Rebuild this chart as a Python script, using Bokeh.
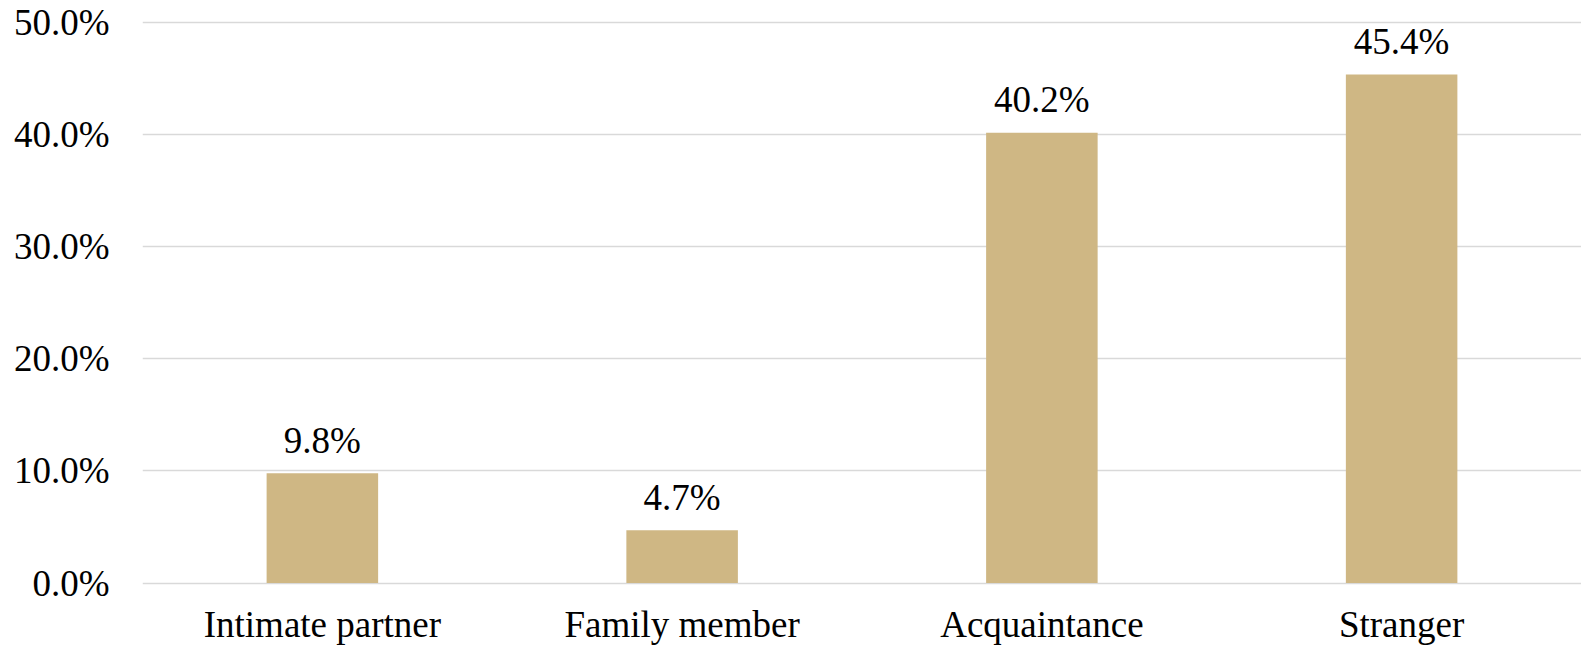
from bokeh.plotting import figure
from bokeh.models import Range1d, FactorRange, FixedTicker, PrintfTickFormatter, ColumnDataSource
from bokeh.core.properties import value
from bokeh.embed import file_html
from bokeh.resources import INLINE

categories = ["Intimate partner", "Family member", "Acquaintance", "Stranger"]
shares = [9.8, 4.7, 40.2, 45.4]
share_labels = ["9.8%", "4.7%", "40.2%", "45.4%"]
y_ticks = [0, 10, 20, 30, 40, 50]

FONT = "Liberation Serif"
FONT2 = "Times New Roman"
BAR = "#CFB784"
GRID = "#D9D9D9"

src = ColumnDataSource(dict(cat=categories, val=shares, lab=share_labels))

p = figure(width=1581, height=647, output_backend="svg", toolbar_location=None,
           x_range=FactorRange(factors=categories, range_padding=0),
           y_range=Range1d(-0.4, 50.3),
           min_border_left=142, min_border_right=0, min_border_top=19, min_border_bottom=59)
p.outline_line_color = None
p.background_fill_color = "white"
p.border_fill_color = "white"

p.vbar(x="cat", top="val", bottom=0, width=0.31, source=src, fill_color=BAR, line_color=None)
p.text(x="cat", y="val", text="lab", source=src, y_offset=-33,
       text_align="center", text_baseline="alphabetic",
       text_font=value(FONT), text_font_size="37px", text_color="black")

p.yaxis.ticker = FixedTicker(ticks=y_ticks)
p.yaxis.formatter = PrintfTickFormatter(format="%.1f%%")
p.yaxis.axis_line_color = None
p.yaxis.major_tick_line_color = None
p.yaxis.minor_tick_line_color = None
p.yaxis.major_tick_out = 0
p.yaxis.major_tick_in = 0
p.yaxis.major_label_standoff = 33
p.yaxis.major_label_text_font = FONT
p.yaxis.major_label_text_font_size = "37px"
p.yaxis.major_label_text_color = "black"

p.xaxis.axis_line_color = None
p.xaxis.major_tick_line_color = None
p.xaxis.minor_tick_line_color = None
p.xaxis.major_tick_out = 0
p.xaxis.major_tick_in = 0
p.xaxis.major_label_standoff = 16
p.xaxis.major_label_text_font = FONT2
p.xaxis.major_label_text_font_size = "37px"
p.xaxis.major_label_text_color = "black"

p.xgrid.grid_line_color = None
p.ygrid.ticker = FixedTicker(ticks=y_ticks)
p.ygrid.grid_line_color = GRID
p.ygrid.grid_line_width = 1.5

open("out.html", "w").write(file_html(p, INLINE))
